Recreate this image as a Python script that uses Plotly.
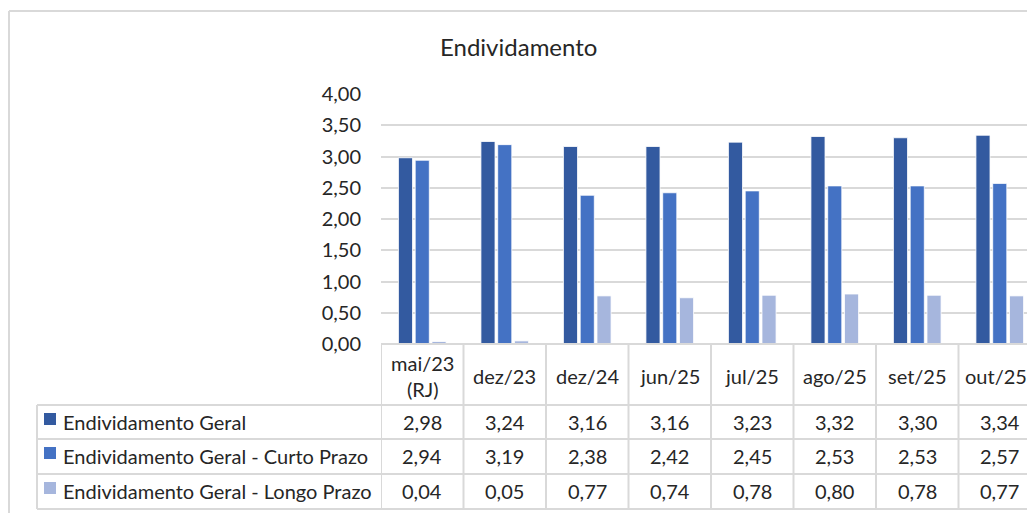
import plotly.graph_objects as go

categories = ["mai/23 (RJ)", "dez/23", "dez/24", "jun/25", "jul/25", "ago/25", "set/25", "out/25"]
series_names = ["Endividamento Geral",
                "Endividamento Geral - Curto Prazo",
                "Endividamento Geral - Longo Prazo"]
geral = [2.98, 3.24, 3.16, 3.16, 3.23, 3.32, 3.30, 3.34]
curto = [2.94, 3.19, 2.38, 2.42, 2.45, 2.53, 2.53, 2.57]
longo = [0.04, 0.05, 0.77, 0.74, 0.78, 0.80, 0.78, 0.77]
y_ticks = [0, 0.5, 1.0, 1.5, 2.0, 2.5, 3.0, 3.5, 4.0]

colors = ["#335AA0", "#4472C4", "#A6B6DD"]
series_values = [geral, curto, longo]

W, H = 1035, 513
OFF = 8  # page body margin
FONT = "Lato"
TXT = "#262626"
GRID = "#d9d9d9"


def fx(px):
    return (px - OFF) / W


def fy(py):
    return 1 - (py - OFF) / H


def fmt(v):
    return f"{v:.2f}".replace(".", ",")


plot_left = 381
plot_right = W  # visible right edge of the window
col_w = 82.5
y_top, y_bot = 94, 344

fig = go.Figure()
for name, vals, col in zip(series_names, series_values, colors):
    fig.add_trace(go.Bar(
        x=list(range(len(categories))), y=vals, name=name,
        marker=dict(color=col, line=dict(color="white", width=0.8)),
        showlegend=False, hoverinfo="skip"))

x_end = -0.5 + (plot_right - plot_left) / col_w

shapes = []
annotations = []

# outer chart border
shapes.append(dict(type="line", xref="paper", yref="paper",
                   x0=fx(9), x1=fx(9), y0=fy(11), y1=0,
                   line=dict(color=GRID, width=2)))
shapes.append(dict(type="line", xref="paper", yref="paper",
                   x0=fx(9), x1=1, y0=fy(11), y1=fy(11),
                   line=dict(color=GRID, width=2)))

# table horizontal lines
row_lines = [405, 439, 474, 509]
shapes.append(dict(type="line", xref="paper", yref="paper",
                   x0=fx(plot_left), x1=1, y0=fy(344), y1=fy(344),
                   line=dict(color=GRID, width=2)))
for ry in row_lines:
    shapes.append(dict(type="line", xref="paper", yref="paper",
                       x0=fx(37), x1=1, y0=fy(ry), y1=fy(ry),
                       line=dict(color=GRID, width=2)))
# table vertical lines
shapes.append(dict(type="line", xref="paper", yref="paper",
                   x0=fx(37), x1=fx(37), y0=fy(405), y1=fy(509),
                   line=dict(color=GRID, width=2)))
for i in range(len(categories)):
    shapes.append(dict(type="line", xref="x", yref="paper",
                       x0=i - 0.5, x1=i - 0.5, y0=fy(344), y1=fy(509),
                       line=dict(color=GRID, width=2)))

# header labels
for i, c in enumerate(categories):
    annotations.append(dict(xref="x", yref="paper", x=i, y=fy(376),
                            text=c.replace(" (", "<br>("), showarrow=False,
                            font=dict(family=FONT, size=20, color=TXT),
                            xanchor="center", yanchor="middle",
                            xshift=-4 if i == len(categories) - 1 else 0))

row_centers = [422, 456, 491]
for r, (name, vals, col) in enumerate(zip(series_names, series_values, colors)):
    cy = row_centers[r]
    shapes.append(dict(type="rect", xref="paper", yref="paper",
                       x0=fx(44), x1=fx(56), y0=fy(cy - 9), y1=fy(cy + 3),
                       fillcolor=col, line=dict(width=0)))
    annotations.append(dict(xref="paper", yref="paper", x=fx(61), y=fy(cy),
                            text=name, showarrow=False,
                            font=dict(family=FONT, size=20, color=TXT),
                            xanchor="left", yanchor="middle"))
    for i, v in enumerate(vals):
        annotations.append(dict(xref="x", yref="paper", x=i, y=fy(cy),
                                text=fmt(v), showarrow=False,
                                font=dict(family=FONT, size=20, color=TXT),
                                xanchor="center", yanchor="middle"))

# title
annotations.append(dict(xref="paper", yref="paper", x=fx(518), y=fy(46),
                        text="Endividamento", showarrow=False,
                        font=dict(family=FONT, size=24, color=TXT),
                        xanchor="center", yanchor="middle"))

fig.update_layout(
    template="none",
    width=W, height=H,
    margin=dict(l=0, r=0, t=0, b=0, autoexpand=False),
    paper_bgcolor="white", plot_bgcolor="white",
    barmode="group", bargap=0.39, bargroupgap=0.16,
    shapes=shapes, annotations=annotations,
    xaxis=dict(domain=[fx(plot_left), fx(plot_right)], range=[-0.5, x_end],
               showticklabels=False, showgrid=False, zeroline=False,
               showline=False, ticks="", automargin=False),
    yaxis=dict(domain=[fy(y_bot), fy(y_top)], range=[0, 4],
               tickvals=y_ticks, ticktext=[fmt(v) for v in y_ticks],
               showgrid=True, gridcolor=GRID, gridwidth=2,
               zeroline=False, showline=False, ticks="",
               ticklabelstandoff=19, automargin=False,
               tickfont=dict(family=FONT, size=20, color=TXT)),
)

fig.write_html("out.html")
